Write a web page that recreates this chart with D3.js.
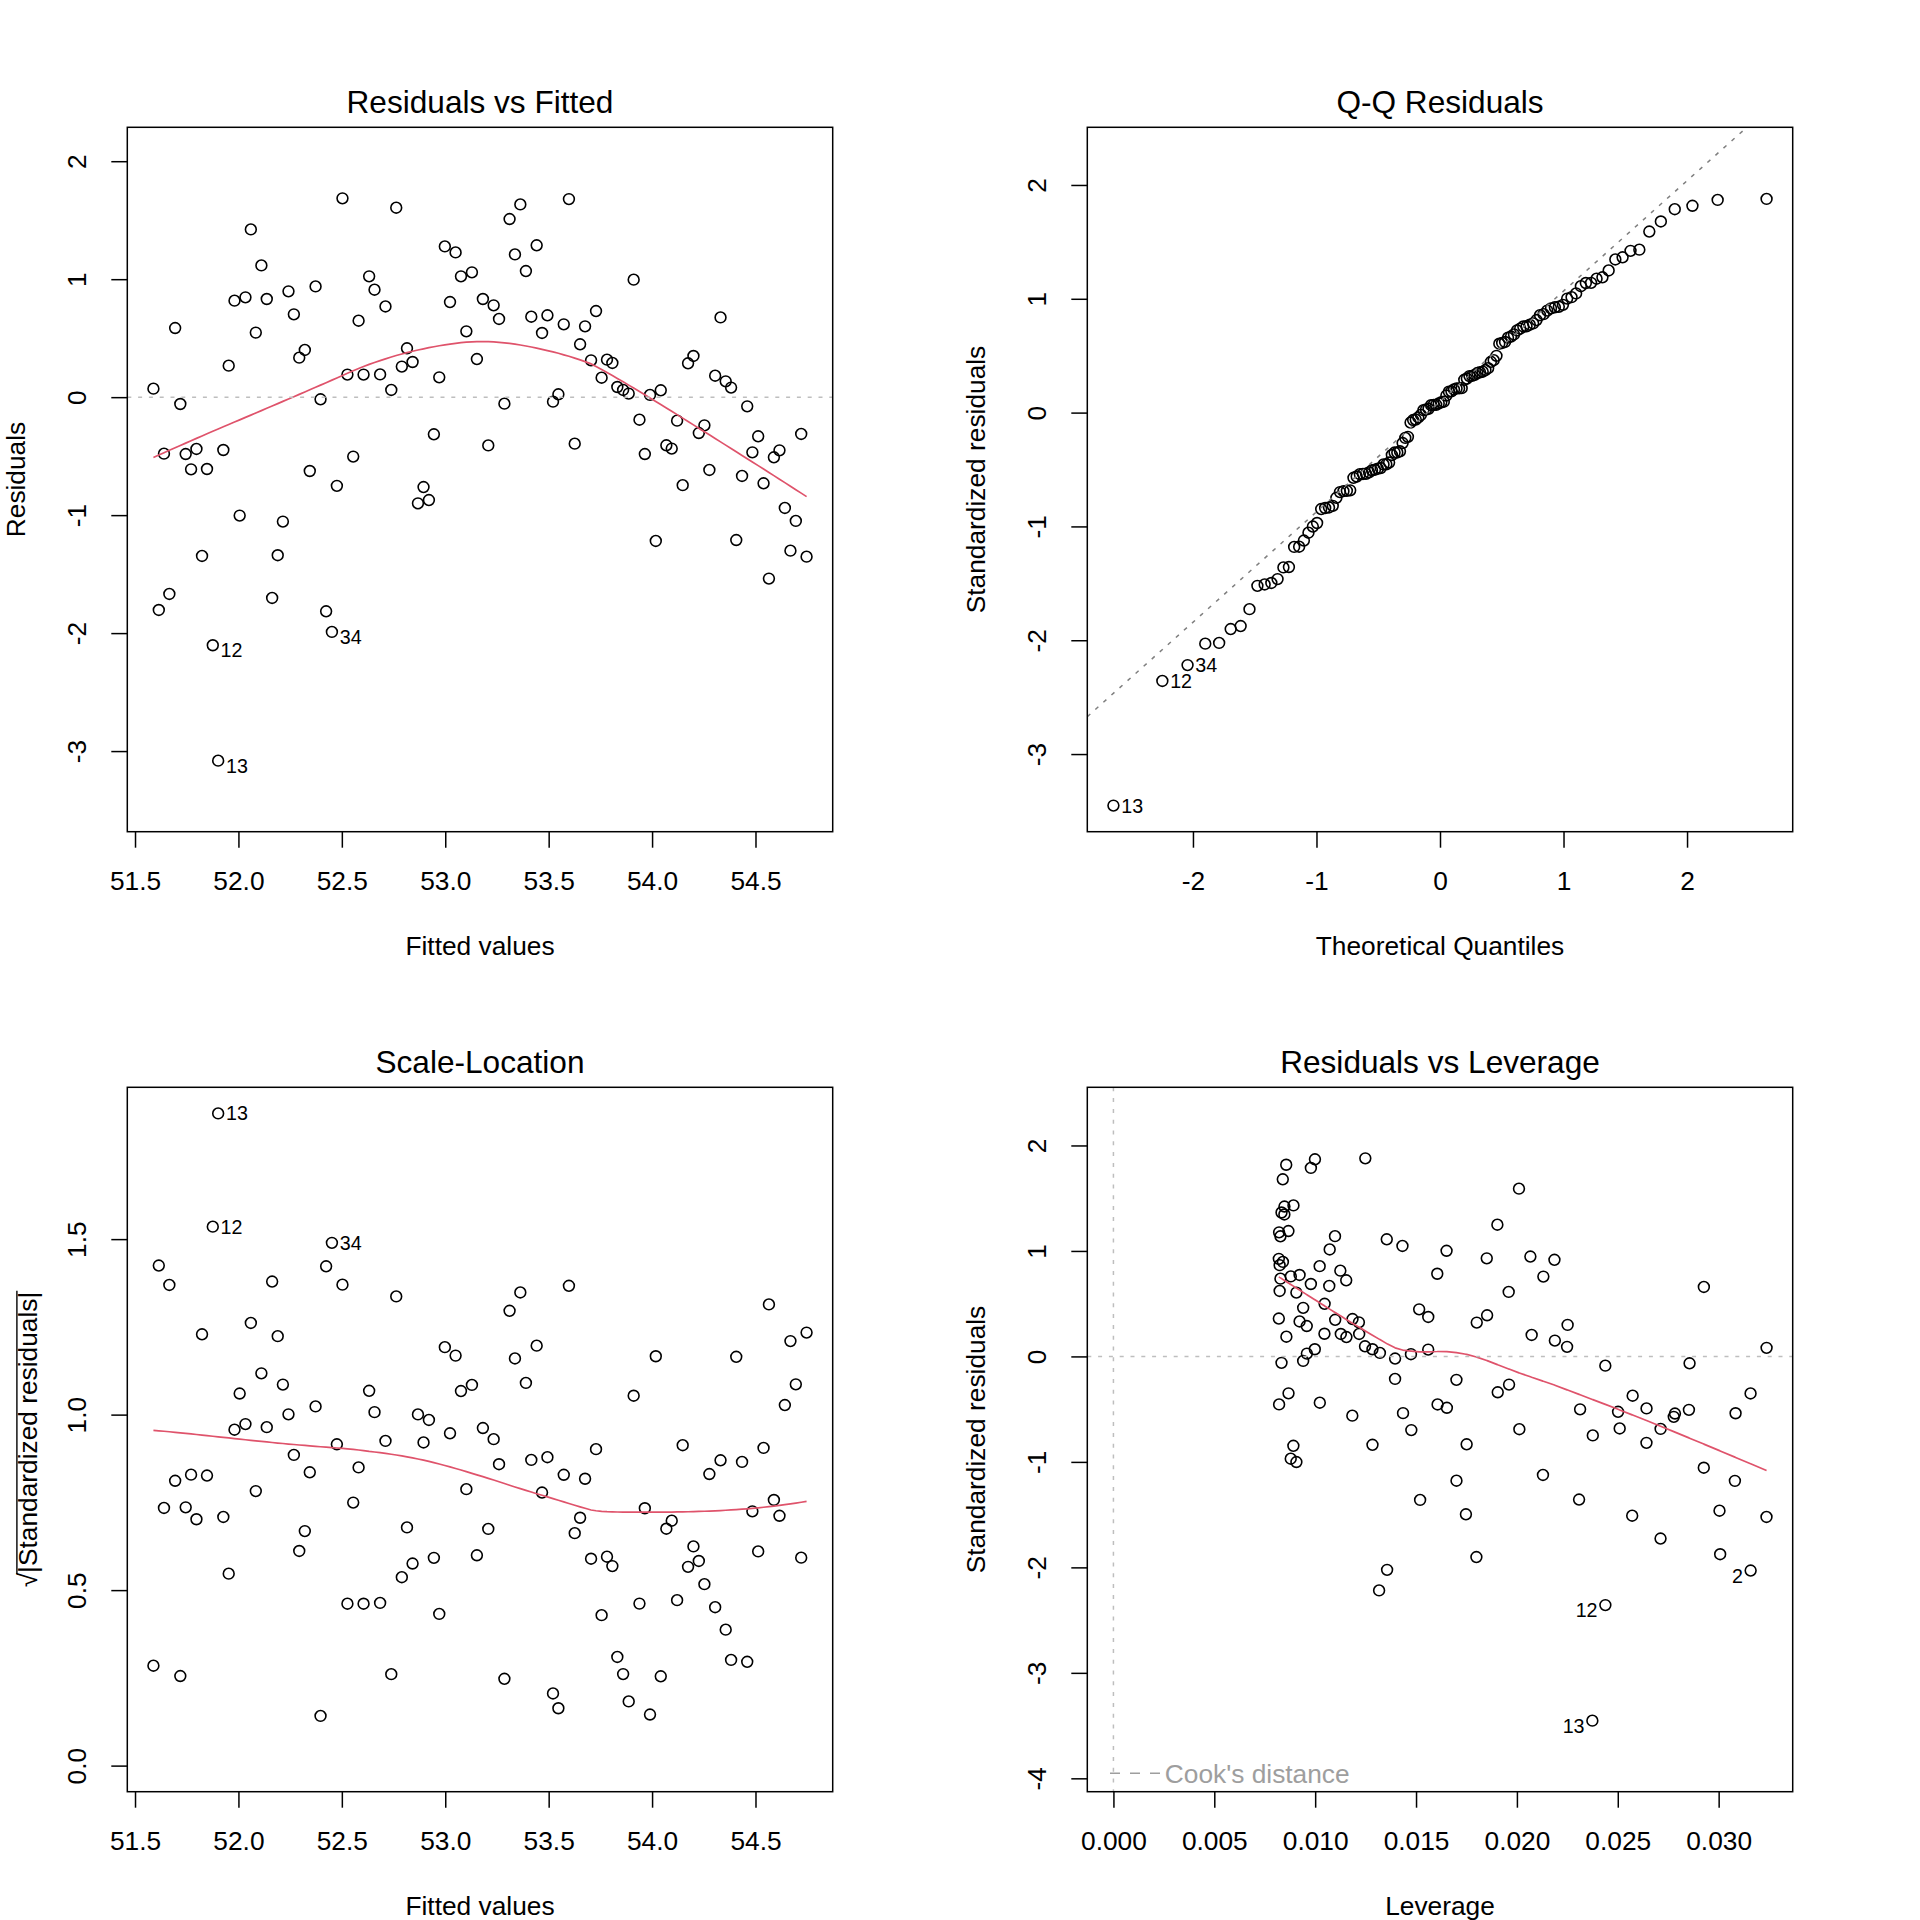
<!DOCTYPE html>
<html><head><meta charset="utf-8">
<script src="https://cdn.jsdelivr.net/npm/d3@7"></script>
<style>
html,body{margin:0;padding:0;background:#fff;}
svg text{font-family:"Liberation Sans", Arial, Helvetica, sans-serif;}
</style></head><body>
<svg id="chart" width="1920" height="1920" xmlns="http://www.w3.org/2000/svg"></svg>
<script>
// ---------------- data (observation 1..122 in order) ----------------
const fittedValues = [
51.589, 51.615, 51.640, 51.666, 51.694, 51.719, 51.745, 51.771, 51.797, 51.824,
51.848, 51.876, 51.902, 51.927, 51.953, 51.981, 52.006, 52.034, 52.060, 52.084,
52.111, 52.137, 52.163, 52.190, 52.215, 52.242, 52.268, 52.294, 52.321, 52.345,
52.373, 52.397, 52.424, 52.452, 52.476, 52.503, 52.527, 52.555, 52.581, 52.605,
52.632, 52.658, 52.685, 52.711, 52.739, 52.763, 52.790, 52.815, 52.842, 52.868,
52.895, 52.921, 52.945, 52.971, 52.998, 53.023, 53.050, 53.076, 53.102, 53.129,
53.153, 53.182, 53.208, 53.234, 53.260, 53.286, 53.311, 53.337, 53.363, 53.390,
53.416, 53.442, 53.468, 53.494, 53.521, 53.547, 53.573, 53.598, 53.626, 53.652,
53.676, 53.705, 53.729, 53.756, 53.782, 53.808, 53.832, 53.860, 53.887, 53.911,
53.939, 53.965, 53.990, 54.018, 54.042, 54.069, 54.095, 54.121, 54.148, 54.174,
54.200, 54.226, 54.253, 54.277, 54.305, 54.331, 54.356, 54.382, 54.407, 54.435,
54.460, 54.485, 54.513, 54.539, 54.565, 54.589, 54.616, 54.642, 54.669, 54.695,
54.721, 54.747];
const residualValues = [
0.072, -1.804, -0.479, -1.668, 0.586, -0.058, -0.482, -0.612, -0.439, -1.346,
-0.609, -2.103, -3.081, -0.448, 0.267, 0.818, -1.004, 0.846, 1.422, 0.547,
1.117, 0.832, -1.702, -1.340, -1.055, 0.897, 0.702, 0.335, 0.400, -0.626,
0.939, -0.018, -1.815, -1.990, -0.752, 1.685, 0.191, -0.504, 0.648, 0.191,
1.024, 0.911, 0.193, 0.769, 0.061, 1.606, 0.259, 0.414, 0.298, -0.900,
-0.762, -0.872, -0.315, 0.168, 1.278, 0.806, 1.227, 1.024, 0.558, 1.058,
0.323, 0.832, -0.409, 0.778, 0.663, -0.055, 1.510, 1.210, 1.634, 1.069,
0.682, 1.287, 0.544, 0.694, -0.038, 0.024, 0.617, 1.679, -0.394, 0.448,
0.600, 0.312, 0.730, 0.165, 0.318, 0.290, 0.086, 0.061, 0.030, 0.996,
-0.191, -0.482, 0.019, -1.219, 0.058, -0.408, -0.436, -0.199, -0.746, 0.287,
0.349, -0.304, -0.239, -0.617, 0.182, 0.676, 0.134, 0.081, -1.211, -0.668,
-0.078, -0.468, -0.332, -0.730, -1.538, -0.510, -0.451, -0.939, -1.301, -1.049,
-0.312, -1.352];

const panelTitles = ["Residuals vs Fitted", "Q-Q Residuals", "Scale-Location", "Residuals vs Leverage"];
const xAxisTitles = ["Fitted values", "Theoretical Quantiles", "Fitted values", "Leverage"];
const yAxisTitles = ["Residuals", "Standardized residuals", "|Standardized residuals|", "Standardized residuals"];
const xTicksFitted = [51.5, 52.0, 52.5, 53.0, 53.5, 54.0, 54.5];
const yTicksResid = [-3, -2, -1, 0, 1, 2];
const xTicksQQ = [-2, -1, 0, 1, 2];
const yTicksQQ = [-3, -2, -1, 0, 1, 2];
const yTicksScale = [0.0, 0.5, 1.0, 1.5];
const xTicksLev = [0.000, 0.005, 0.010, 0.015, 0.020, 0.025, 0.030];
const yTicksLev = [-4, -3, -2, -1, 0, 1, 2];
const legendLabel = "Cook's distance";

// ---------------- statistics (as R's plot.lm does) ----------------
const n = fittedValues.length;
const fbar = d3.mean(fittedValues);
const Sff = d3.sum(fittedValues, f => (f - fbar) ** 2);
const hat = fittedValues.map(f => 1 / n + (f - fbar) ** 2 / Sff);
const sigma = Math.sqrt(d3.sum(residualValues, r => r * r) / (n - 2));
const stdRes = residualValues.map((r, i) => r / (sigma * Math.sqrt(1 - hat[i])));
const sqrtAbs = stdRes.map(v => Math.sqrt(Math.abs(v)));
const cook = stdRes.map((v, i) => v * v * hat[i] / (2 * (1 - hat[i])));

function qnorm(p) {
  const a = [-3.969683028665376e+01, 2.209460984245205e+02, -2.759285104469687e+02, 1.383577518672690e+02, -3.066479806614716e+01, 2.506628277459239e+00];
  const b = [-5.447609879822406e+01, 1.615858368580409e+02, -1.556989798598866e+02, 6.680131188771972e+01, -1.328068155288572e+01];
  const c = [-7.784894002430293e-03, -3.223964580411365e-01, -2.400758277161838e+00, -2.549732539343734e+00, 4.374664141464968e+00, 2.938163982698783e+00];
  const d = [7.784695709041462e-03, 3.224671290700398e-01, 2.445134137142996e+00, 3.754408661907416e+00];
  const pl = 0.02425, ph = 1 - pl; let q, r;
  if (p < pl) { q = Math.sqrt(-2 * Math.log(p)); return (((((c[0]*q+c[1])*q+c[2])*q+c[3])*q+c[4])*q+c[5])/((((d[0]*q+d[1])*q+d[2])*q+d[3])*q+1); }
  if (p <= ph) { q = p - 0.5; r = q * q; return (((((a[0]*r+a[1])*r+a[2])*r+a[3])*r+a[4])*r+a[5])*q/(((((b[0]*r+b[1])*r+b[2])*r+b[3])*r+b[4])*r+1); }
  q = Math.sqrt(-2 * Math.log(1 - p)); return -(((((c[0]*q+c[1])*q+c[2])*q+c[3])*q+c[4])*q+c[5])/((((d[0]*q+d[1])*q+d[2])*q+d[3])*q+1);
}
const order = d3.range(n).sort((a, b) => stdRes[a] - stdRes[b]);
const qqX = new Array(n);
order.forEach((idx, k) => { qqX[idx] = qnorm((k + 0.5) / n); });
const sortedRs = order.map(i => stdRes[i]);
const qy = [d3.quantile(sortedRs, 0.25), d3.quantile(sortedRs, 0.75)];
const qx = [qnorm(0.25), qnorm(0.75)];
const qqSlope = (qy[1] - qy[0]) / (qx[1] - qx[0]);
const qqInt = qy[0] - qqSlope * qx[0];

// R's lowess (clowess port)
function lowess(xIn, yIn, f = 2 / 3, nsteps = 3) {
  const idx = d3.range(xIn.length).sort((a, b) => xIn[a] - xIn[b]);
  const N = idx.length;
  const x = [0, ...idx.map(i => xIn[i])], y = [0, ...idx.map(i => yIn[i])];
  const delta = 0.01 * (x[N] - x[1]);
  const ys = new Array(N + 1).fill(0), rw = new Array(N + 1).fill(1), res = new Array(N + 1).fill(0), w = new Array(N + 1).fill(0);
  const ns = Math.max(2, Math.min(N, Math.floor(f * N + 1e-7)));
  function lowest(xs, nleft, nright, userw) {
    const range = x[N] - x[1];
    const h = Math.max(xs - x[nleft], x[nright] - xs);
    const h9 = 0.999 * h, h1 = 0.001 * h;
    let a = 0, j = nleft;
    while (j <= N) {
      w[j] = 0;
      const r = Math.abs(x[j] - xs);
      if (r <= h9) {
        w[j] = r <= h1 ? 1 : Math.pow(1 - Math.pow(r / h, 3), 3);
        if (userw) w[j] *= rw[j];
        a += w[j];
      } else if (x[j] > xs) break;
      j++;
    }
    const nrt = j - 1;
    if (a <= 0) return null;
    for (j = nleft; j <= nrt; j++) w[j] /= a;
    if (h > 0) {
      a = 0;
      for (j = nleft; j <= nrt; j++) a += w[j] * x[j];
      let b = xs - a, c = 0;
      for (j = nleft; j <= nrt; j++) c += w[j] * (x[j] - a) * (x[j] - a);
      if (Math.sqrt(c) > 0.001 * range) {
        b /= c;
        for (j = nleft; j <= nrt; j++) w[j] *= (b * (x[j] - a) + 1);
      }
    }
    let s = 0;
    for (j = nleft; j <= nrt; j++) s += w[j] * y[j];
    return s;
  }
  for (let it = 1; it <= nsteps + 1; it++) {
    let nleft = 1, nright = ns, last = 0, i = 1;
    for (;;) {
      if (nright < N) {
        const d1 = x[i] - x[nleft], d2 = x[nright + 1] - x[i];
        if (d1 > d2) { nleft++; nright++; continue; }
      }
      const v = lowest(x[i], nleft, nright, it > 1);
      ys[i] = v === null ? y[i] : v;
      if (last < i - 1) {
        const denom = x[i] - x[last];
        for (let j = last + 1; j < i; j++) { const al = (x[j] - x[last]) / denom; ys[j] = al * ys[i] + (1 - al) * ys[last]; }
      }
      last = i;
      const cut = x[last] + delta;
      for (i = last + 1; i <= N; i++) {
        if (x[i] > cut) break;
        if (x[i] === x[last]) { ys[i] = ys[last]; last = i; }
      }
      i = Math.max(last + 1, i - 1);
      if (last >= N) break;
    }
    for (let k = 1; k <= N; k++) res[k] = y[k] - ys[k];
    if (it > nsteps) break;
    const ar = []; for (let k = 1; k <= N; k++) ar.push(Math.abs(res[k]));
    const sc = d3.sum(ar) / N;
    ar.sort((p, q) => p - q);
    const m1 = Math.floor(N / 2);
    const cmad = (N % 2 === 0) ? 3 * (ar[m1] + ar[N - m1 - 1]) : 6 * ar[m1];
    if (cmad < 1e-7 * sc) break;
    const c9 = 0.999 * cmad, c1 = 0.001 * cmad;
    for (let k = 1; k <= N; k++) {
      const r = Math.abs(res[k]);
      rw[k] = r <= c1 ? 1 : (r <= c9 ? Math.pow(1 - Math.pow(r / cmad, 2), 2) : 0);
    }
  }
  return x.slice(1).map((xv, k) => [xv, ys[k + 1]]);
}

const ext = (r, f) => { const d = (r[1] - r[0]) * f; return [r[0] - d, r[1] + d]; };
const topIdx = (score) => d3.range(n).sort((a, b) => score(b) - score(a)).slice(0, 3);

// ---------------- drawing ----------------
const svg = d3.select("#chart");
svg.append("rect").attr("width", 1920).attr("height", 1920).attr("fill", "#fff");
const COLS = [[127.3, 832.7], [1087.3, 1792.7]];
const ROWS = [[127.3, 831.7], [1087.3, 1791.7]];
const BASE = 26.3, TITLE = 31.6, IDF = 19.7;
const RED = "#DF536B";
const DOT = "4,6.8";
const FONT = '"Liberation Sans", Arial, sans-serif';

function drawPanel(cfg) {
  const [x0, x1] = COLS[cfg.col], [y0, y1] = ROWS[cfg.row];
  const xs = d3.scaleLinear().domain(cfg.xDomain).range([x0, x1]);
  const ys = d3.scaleLinear().domain(cfg.yDomain).range([y1, y0]);
  const g = svg.append("g");
  const clipId = "clip" + cfg.col + cfg.row;
  g.append("clipPath").attr("id", clipId).append("rect")
    .attr("x", x0).attr("y", y0).attr("width", x1 - x0).attr("height", y1 - y0);

  // points
  g.append("g").selectAll("circle").data(cfg.points).join("circle")
    .attr("cx", d => xs(d.x)).attr("cy", d => ys(d.y)).attr("r", 5.4)
    .attr("fill", "none").attr("stroke", "#000").attr("stroke-width", 1.6);

  const inner = g.append("g").attr("clip-path", `url(#${clipId})`);
  if (cfg.smooth) {
    inner.append("path").attr("d", d3.line().x(d => xs(d[0])).y(d => ys(d[1]))(cfg.smooth))
      .attr("fill", "none").attr("stroke", RED).attr("stroke-width", 1.7);
  }
  if (cfg.refLines) cfg.refLines(inner, xs, ys);

  // box
  g.append("rect").attr("x", x0).attr("y", y0).attr("width", x1 - x0).attr("height", y1 - y0)
    .attr("fill", "none").attr("stroke", "#000").attr("stroke-width", 1.5);

  // x axis
  const ax = g.append("g").attr("transform", `translate(0,${y1})`)
    .call(d3.axisBottom(xs).tickValues(cfg.xTicks).tickFormat(cfg.xFmt).tickSize(16).tickSizeOuter(0));
  ax.select(".domain").remove();
  ax.selectAll(".tick line").attr("stroke", "#000").attr("stroke-width", 1.5);
  ax.selectAll(".tick text").attr("y", 58.3).attr("dy", null).attr("fill", "#000")
    .style("font-size", BASE + "px").style("font-family", FONT);

  // y axis
  const ay = g.append("g").attr("transform", `translate(${x0},0)`)
    .call(d3.axisLeft(ys).tickValues(cfg.yTicks).tickFormat(cfg.yFmt).tickSize(16).tickSizeOuter(0));
  ay.select(".domain").remove();
  ay.selectAll(".tick line").attr("stroke", "#000").attr("stroke-width", 1.5);
  ay.selectAll(".tick text").attr("x", 0).attr("dy", null).attr("y", 0)
    .attr("transform", "translate(-41.3,0) rotate(-90)").attr("text-anchor", "middle").attr("fill", "#000")
    .style("font-size", BASE + "px").style("font-family", FONT);

  // titles
  g.append("text").attr("x", (x0 + x1) / 2).attr("y", y0 - 14).attr("text-anchor", "middle")
    .style("font-size", TITLE + "px").text(cfg.title);
  g.append("text").attr("x", (x0 + x1) / 2).attr("y", y1 + 123.3).attr("text-anchor", "middle")
    .style("font-size", BASE + "px").text(cfg.xTitle);
  if (cfg.sqrtLabel) {
    const gl = g.append("g").attr("transform", `translate(${x0 - 90.6},${(y0 + y1) / 2}) rotate(-90)`);
    const t = gl.append("text").attr("text-anchor", "middle").style("font-size", BASE + "px");
    t.append("tspan").text("\u221A");
    const t2 = t.append("tspan").text(cfg.yTitle);
    const total = t.node().getComputedTextLength();
    const sub = t2.node().getComputedTextLength();
    gl.append("line").attr("x1", total / 2 - sub - 1).attr("x2", total / 2 + 1)
      .attr("y1", -19.8).attr("y2", -19.8).attr("stroke", "#000").attr("stroke-width", 1.4);
  } else {
    g.append("text").attr("transform", `translate(${x0 - 102.3},${(y0 + y1) / 2}) rotate(-90)`)
      .attr("text-anchor", "middle").style("font-size", BASE + "px").text(cfg.yTitle);
  }

  // id labels
  const mid = (cfg.xDomain[0] + cfg.xDomain[1]) / 2;
  g.append("g").selectAll("text").data(cfg.labels).join("text")
    .attr("x", d => xs(d.x) + (d.x > mid ? -7.8 : 7.8))
    .attr("y", d => ys(d.y) + (cfg.shiftNeg && d.y < 0 ? 5.2 : 0) + 7.0)
    .attr("text-anchor", d => d.x > mid ? "end" : "start")
    .style("font-size", IDF + "px").text(d => d.label);

  if (cfg.extra) cfg.extra(g, xs, ys, x0, x1, y0, y1);
}

const fmt1 = d3.format(".1f"), fmt3 = d3.format(".3f"), fmtInt = d => String(d);

// Panel 1: Residuals vs Fitted
const top1 = topIdx(i => Math.abs(residualValues[i]));
drawPanel({
  col: 0, row: 0, title: panelTitles[0], xTitle: xAxisTitles[0], yTitle: yAxisTitles[0],
  xDomain: ext(d3.extent(fittedValues), 0.04),
  yDomain: ext(ext(d3.extent(residualValues), 0.08), 0.04),
  xTicks: xTicksFitted, xFmt: fmt1, yTicks: yTicksResid, yFmt: fmtInt,
  points: fittedValues.map((f, i) => ({ x: f, y: residualValues[i] })),
  smooth: lowess(fittedValues, residualValues),
  shiftNeg: true,
  labels: top1.map(i => ({ x: fittedValues[i], y: residualValues[i], label: String(i + 1) })),
  refLines: (g, xs, ys) => {
    g.append("line").attr("x1", xs.range()[0]).attr("x2", xs.range()[1]).attr("y1", ys(0)).attr("y2", ys(0))
      .attr("stroke", "#BEBEBE").attr("stroke-width", 1.5).attr("stroke-dasharray", DOT);
  }
});

// Panel 2: Q-Q
const top2 = topIdx(i => Math.abs(stdRes[i]));
const rsExt = d3.extent(stdRes);
drawPanel({
  col: 1, row: 0, title: panelTitles[1], xTitle: xAxisTitles[1], yTitle: yAxisTitles[1],
  xDomain: ext(d3.extent(qqX), 0.04),
  yDomain: ext([rsExt[0], rsExt[1] + (rsExt[1] - rsExt[0]) * 0.075], 0.04),
  xTicks: xTicksQQ, xFmt: fmtInt, yTicks: yTicksQQ, yFmt: fmtInt,
  points: qqX.map((q, i) => ({ x: q, y: stdRes[i] })),
  shiftNeg: false,
  labels: top2.map(i => ({ x: qqX[i], y: stdRes[i], label: String(i + 1) })),
  refLines: (g, xs, ys) => {
    const [a, b] = xs.domain();
    g.append("line").attr("x1", xs(a)).attr("x2", xs(b)).attr("y1", ys(qqInt + qqSlope * a)).attr("y2", ys(qqInt + qqSlope * b))
      .attr("stroke", "#7F7F7F").attr("stroke-width", 1.5).attr("stroke-dasharray", DOT);
  }
});

// Panel 3: Scale-Location
drawPanel({
  col: 0, row: 1, title: panelTitles[2], xTitle: xAxisTitles[2], yTitle: yAxisTitles[2], sqrtLabel: true,
  xDomain: ext(d3.extent(fittedValues), 0.04),
  yDomain: ext([0, d3.max(sqrtAbs)], 0.04),
  xTicks: xTicksFitted, xFmt: fmt1, yTicks: yTicksScale, yFmt: fmt1,
  points: fittedValues.map((f, i) => ({ x: f, y: sqrtAbs[i] })),
  smooth: lowess(fittedValues, sqrtAbs),
  shiftNeg: false,
  labels: top2.map(i => ({ x: fittedValues[i], y: sqrtAbs[i], label: String(i + 1) }))
});

// Panel 4: Residuals vs Leverage
const top4 = topIdx(i => cook[i]);
drawPanel({
  col: 1, row: 1, title: panelTitles[3], xTitle: xAxisTitles[3], yTitle: yAxisTitles[3],
  xDomain: ext([0, d3.max(hat)], 0.04),
  yDomain: ext(ext(d3.extent(stdRes), 0.08), 0.04),
  xTicks: xTicksLev, xFmt: fmt3, yTicks: yTicksLev, yFmt: fmtInt,
  points: hat.map((h, i) => ({ x: h, y: stdRes[i] })),
  smooth: lowess(hat, stdRes),
  shiftNeg: true,
  labels: top4.map(i => ({ x: hat[i], y: stdRes[i], label: String(i + 1) })),
  refLines: (g, xs, ys) => {
    g.append("line").attr("x1", xs.range()[0]).attr("x2", xs.range()[1]).attr("y1", ys(0)).attr("y2", ys(0))
      .attr("stroke", "#BEBEBE").attr("stroke-width", 1.5).attr("stroke-dasharray", DOT);
    g.append("line").attr("x1", xs(0)).attr("x2", xs(0)).attr("y1", ys.range()[1]).attr("y2", ys.range()[0])
      .attr("stroke", "#BEBEBE").attr("stroke-width", 1.5).attr("stroke-dasharray", DOT);
  },
  extra: (g, xs, ys, x0, x1, y0, y1) => {
    g.append("line").attr("x1", x0 + 22.7).attr("x2", x0 + 72.7).attr("y1", y1 - 18.4).attr("y2", y1 - 18.4)
      .attr("stroke", "#9E9E9E").attr("stroke-width", 1.5).attr("stroke-dasharray", "10,10");
    g.append("text").attr("x", x0 + 77.5).attr("y", y1 - 8.4).style("font-size", BASE + "px")
      .attr("fill", "#9E9E9E").text(legendLabel);
  }
});
</script>
</body></html>
